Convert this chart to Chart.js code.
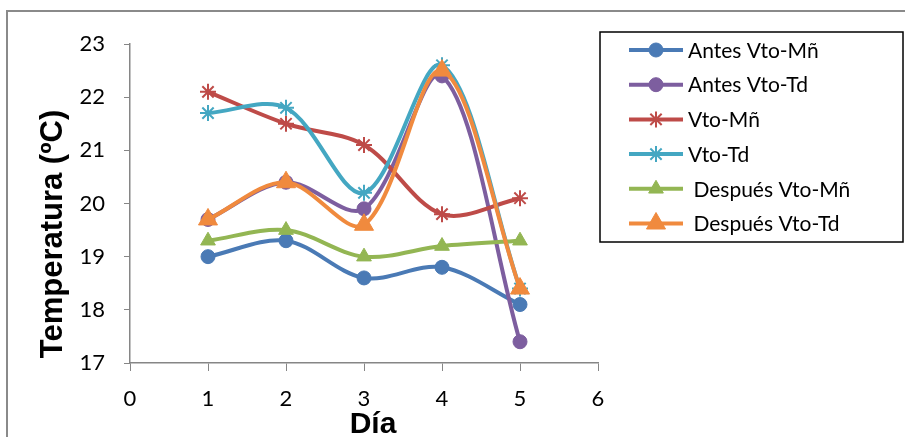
<!DOCTYPE html>
<html>
<head>
<meta charset="utf-8">
<script src="https://cdn.jsdelivr.net/npm/chart.js@4/dist/chart.umd.min.js"></script>
<style>
  body { margin: 0; background: #fff; }
  #wrap { width: 905px; height: 437px; position: relative; }
</style>
</head>
<body>
<div id="wrap"><canvas id="chart" width="905" height="437"></canvas></div>
<script>
// data
const dias = [1, 2, 3, 4, 5];
const seriesNames = ['Antes Vto-Mñ', 'Antes Vto-Td', 'Vto-Mñ', 'Vto-Td', ' Después Vto-Mñ', ' Después Vto-Td'];
const antesMn = [19.0, 19.3, 18.6, 18.8, 18.1];
const antesTd = [19.7, 20.4, 19.9, 22.4, 17.4];
const vtoMn = [22.1, 21.5, 21.1, 19.8, 20.1];
const vtoTd = [21.7, 21.8, 20.2, 22.6, 18.4];
const despuesMn = [19.3, 19.5, 19.0, 19.2, 19.3];
const despuesTd = [19.7, 20.4, 19.6, 22.5, 18.4];
const yTitle = 'Temperatura (ºC)';
const xTitle = 'Día';

const colors = ['#4a7ab5', '#7d5e9f', '#be4b48', '#44a7c2', '#93b653', '#f08a3e'];
const styles = ['circle', 'circle', 'star', 'star', 'triangle', 'triangle'];
const radii = [7, 7, 8, 8, 8.5, 11];
const allValues = [antesMn, antesTd, vtoMn, vtoTd, despuesMn, despuesTd];

const datasets = allValues.map((vals, i) => ({
  label: seriesNames[i],
  data: vals.map((v, j) => ({ x: dias[j], y: v })),
  borderColor: colors[i],
  backgroundColor: colors[i],
  pointStyle: styles[i],
  pointRadius: radii[i],
  pointBorderWidth: styles[i] === 'star' ? 2 : 1,
  borderWidth: 4,
  tension: 0.33,
  order: 6 - i,
}));

const extras = {
  id: 'extras',
  beforeDraw(chart) {
    const ctx = chart.ctx;
    ctx.save();
    ctx.fillStyle = '#fff';
    ctx.fillRect(0, 0, chart.width, chart.height);
    ctx.strokeStyle = '#8a8a8a';
    ctx.lineWidth = 2;
    ctx.strokeRect(7, 11, 920, 450);
    ctx.restore();
  },
  afterDraw(chart) {
    const ctx = chart.ctx;
    ctx.save();
    // axis titles
    ctx.fillStyle = '#000';
    ctx.font = 'bold 31px "Liberation Sans", Arial';
    ctx.textAlign = 'center';
    ctx.textBaseline = 'middle';
    ctx.save();
    ctx.translate(53, 234);
    ctx.rotate(-Math.PI / 2);
    ctx.fillText(yTitle, 0, 0);
    ctx.restore();
    ctx.font = 'bold 30px "Liberation Sans", Arial';
    ctx.textBaseline = 'alphabetic';
    ctx.fillText(xTitle, 373, 433);

    // legend
    ctx.strokeStyle = '#000';
    ctx.lineWidth = 1.5;
    ctx.strokeRect(600, 32, 303, 210);
    ctx.font = '21px Lato';
    ctx.textAlign = 'left';
    ctx.textBaseline = 'middle';
    seriesNames.forEach((name, i) => {
      const y = 50 + i * 34.7;
      ctx.strokeStyle = colors[i];
      ctx.fillStyle = colors[i];
      ctx.lineWidth = 4;
      ctx.beginPath();
      ctx.moveTo(629, y);
      ctx.lineTo(683, y);
      ctx.stroke();
      ctx.lineWidth = styles[i] === 'star' ? 2 : 1;
      Chart.helpers.drawPoint(ctx, { pointStyle: styles[i], radius: radii[i], rotation: 0, borderWidth: ctx.lineWidth }, 656, y);
      ctx.fillStyle = '#000';
      ctx.fillText(name, 688, y + 1);
    });
    ctx.restore();
  }
};

new Chart(document.getElementById('chart'), {
  type: 'line',
  data: { datasets },
  plugins: [extras],
  options: {
    responsive: false,
    animation: false,
    layout: { padding: { left: 0, top: 44, right: 307, bottom: 0 } },
    plugins: {
      legend: { display: false },
      tooltip: { enabled: false },
    },
    scales: {
      x: {
        type: 'linear',
        min: 0,
        max: 6,
        ticks: { stepSize: 1, color: '#000', font: { family: 'Lato', size: 22 }, padding: 15 },
        grid: { drawOnChartArea: false, tickLength: 8, color: '#868686' },
        border: { color: '#868686', width: 1.5 },
        afterFit(scale) { scale.height = 74; },
      },
      y: {
        min: 17,
        max: 23,
        ticks: {
          stepSize: 0.5,
          color: '#000',
          font: { family: 'Lato', size: 22 },
          padding: 19,
          callback: v => (Number.isInteger(v) ? v : ''),
        },
        grid: { drawOnChartArea: false, tickLength: 6, color: '#868686' },
        border: { color: '#868686', width: 1.5 },
        afterFit(scale) { scale.width = 130; },
      },
    },
  },
});
</script>
</body>
</html>
